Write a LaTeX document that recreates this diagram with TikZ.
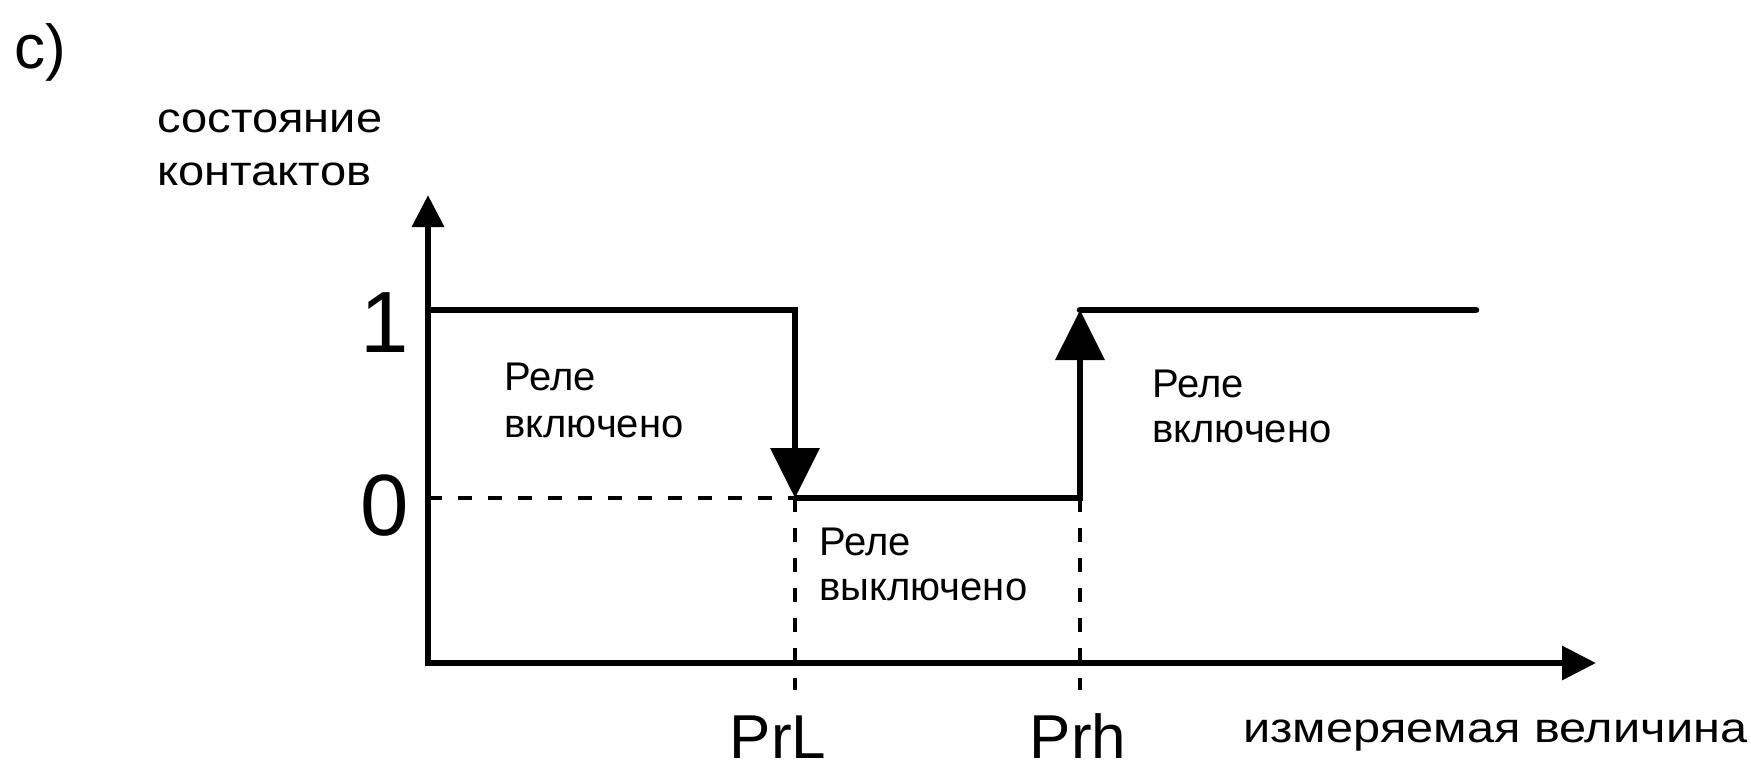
\documentclass[tikz,border=0pt]{standalone}
\usepackage{fontspec}
\setmainfont{Liberation Sans}
\newfontfamily\widefont[FakeStretch=1.12]{Liberation Sans}
\newfontfamily\widerfont[FakeStretch=1.16]{Liberation Sans}
\usetikzlibrary{arrows.meta}
\tikzset{
  lbl/.style={inner sep=0pt, anchor=base west, font=\fontsize{20}{24}\selectfont},
  widelbl/.style={inner sep=0pt, anchor=base west, font=\widefont\fontsize{21}{25}\selectfont},
  digit/.style={inner sep=0pt, anchor=base east, font=\fontsize{43.5}{50}\selectfont},
  thr/.style={inner sep=0pt, anchor=base, font=\fontsize{31}{36}\selectfont},
  axis/.style={line width=3.2pt},
  level/.style={line width=3.3pt},
  guide/.style={line width=1.8pt, dash pattern=on 7pt off 8pt},
}
\begin{document}
\begin{tikzpicture}[x=0.5pt, y=-0.5pt]
\useasboundingbox (0,0) rectangle (1751,773);
% key points
\coordinate (O) at (428,663);
\coordinate (Ytop) at (428,195);
\coordinate (Xend) at (1596,663);
\coordinate (A1) at (428,310);
\coordinate (L1) at (795,310);
\coordinate (L0) at (795,498);
\coordinate (H0) at (1080,498);
\coordinate (H1) at (1080,310);
\coordinate (R1) at (1476,310);
\coordinate (A0) at (428,498);
\coordinate (Lb) at (795,690);
\coordinate (Hb) at (1080,690);
% dashed guides
\draw[guide] (A0) -- (L0);
\draw[guide] (L0) -- (Lb);
\draw[guide] (H0) -- (Hb);
% axes
\draw[axis, -{Triangle[length=16pt, width=15.5pt]}] (O) -- (Ytop);
\draw[axis, -{Triangle[length=17pt, width=16.5pt]}] ([xshift=-1.6pt]O) -- (Xend);
% characteristic
\draw[level, line join=miter, -{Triangle[length=25pt, width=24pt]}] (A1) -- (L1) -- (L0);
\draw[level, line join=miter, -{Triangle[length=25pt, width=24pt]}] (L0) -- (H0) -- (H1);
\draw[level, line cap=round] (H1) -- (R1);
% labels
\node[inner sep=0pt, anchor=base west, font=\fontsize{31}{35}\selectfont] (lab) at (14,68) {c)};
\node[widelbl] (st1) at (157,132) {состояние};
\node[widelbl] (st2) at (157,185) {контактов};
\node[digit] (one) at (409,352) {1};
\node[digit] (zero) at (409,535) {0};
\node[lbl] (l1) at (504,390) {Реле};
\node[lbl] (l2) at (504,437) {включено};
\node[lbl] (m1) at (819,555) {Реле};
\node[lbl] (m2) at (819,600) {выключено};
\node[lbl] (r1) at (1152,397) {Реле};
\node[lbl] (r2) at (1152,442) {включено};
\node[thr] (prl) at (778,758) {PrL};
\node[thr] (prh) at (1078,758) {Prh};
\node[inner sep=0pt, anchor=base west, font=\widerfont\fontsize{21}{25}\selectfont] (meas) at (1243,742) {измеряемая величина};
\end{tikzpicture}
\end{document}
